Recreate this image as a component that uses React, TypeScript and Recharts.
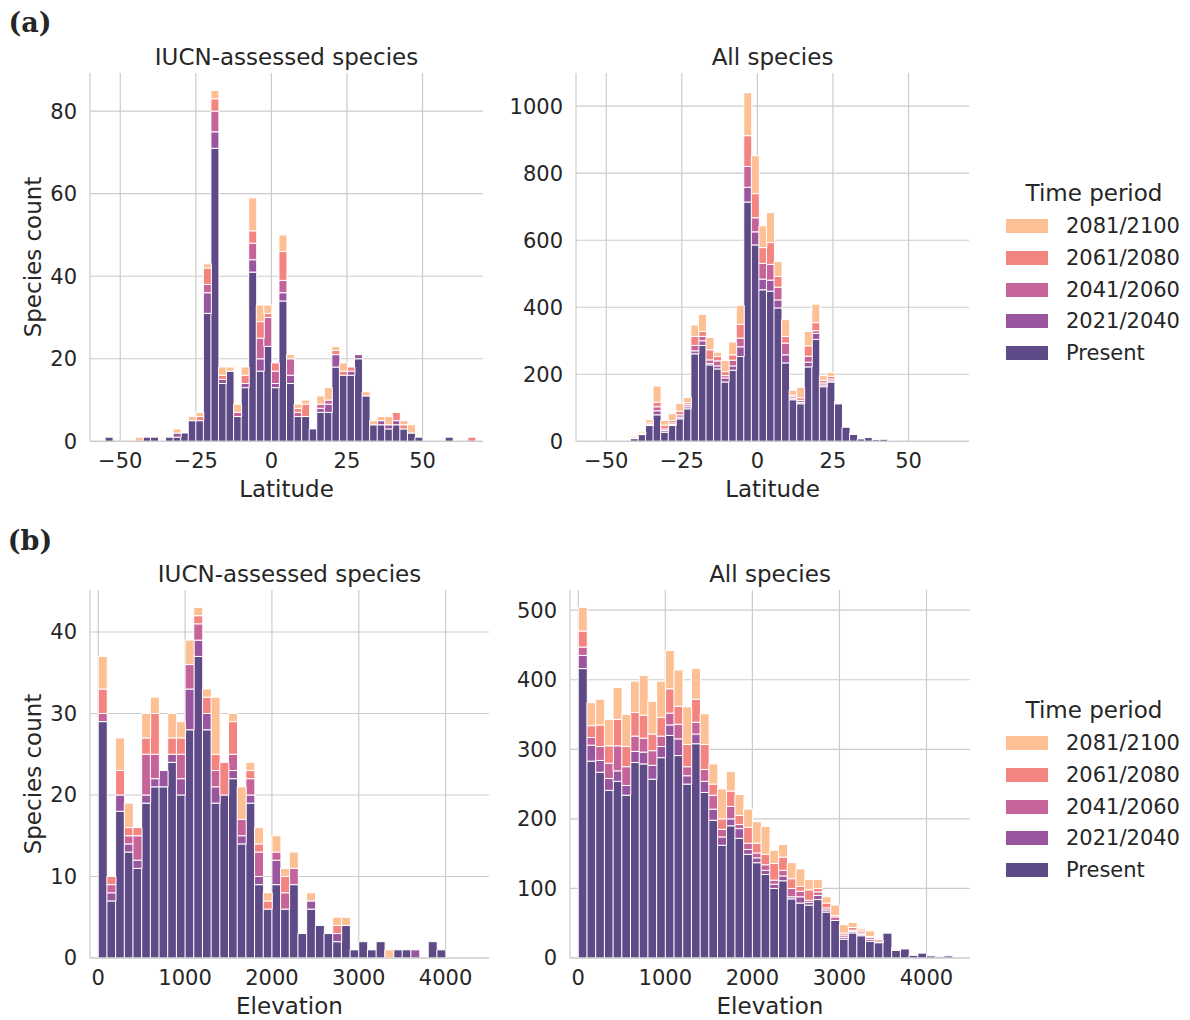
import React from 'react'
import { BarChart, Bar, XAxis, YAxis, CartesianGrid } from 'recharts'

const PERIODS = ['Present', '2021/2040', '2041/2060', '2061/2080', '2081/2100']
const PERIOD_COLORS = ['#5d4a86', '#9a559f', '#c6649a', '#f4847f', '#fdbf94']

// (a) latitude, IUCN-assessed species – 2.5 degree bins from -55
const latIucnStart = -55
const latIucnPresent = [1, 0, 0, 0, 0, 1, 1, 0, 1, 1, 2, 5, 5, 31, 71, 14, 17, 6, 13, 41, 17, 23, 13, 34, 14, 6, 6, 3, 7, 7, 18, 16, 16, 20, 11, 4, 4, 3, 4, 3, 2, 1, 0, 0, 0, 1, 0, 0, 0]
const latIucn2021 = [1, 0, 0, 0, 0, 1, 1, 0, 1, 2, 2, 5, 5, 36, 75, 15, 17, 6, 14, 44, 20, 23, 14, 36, 16, 6, 6, 3, 8, 9, 21, 16, 17, 21, 11, 4, 5, 4, 5, 3, 2, 1, 0, 0, 0, 1, 0, 0, 0]
const latIucn2041 = [1, 0, 0, 0, 0, 1, 1, 0, 1, 2, 2, 5, 5, 38, 80, 15, 17, 7, 14, 48, 25, 30, 17, 39, 20, 7, 6, 3, 9, 10, 21, 16, 17, 21, 11, 4, 5, 4, 5, 3, 2, 1, 0, 0, 0, 1, 0, 0, 0]
const latIucn2061 = [1, 0, 0, 0, 0, 1, 1, 0, 1, 2, 2, 5, 6, 42, 83, 16, 17, 7, 16, 51, 29, 31, 19, 46, 20, 8, 9, 3, 9, 10, 22, 17, 18, 21, 11, 4, 5, 4, 7, 4, 2, 1, 0, 0, 0, 1, 0, 0, 1]
const latIucn2081 = [1, 0, 0, 0, 1, 1, 1, 0, 1, 3, 2, 6, 7, 43, 85, 18, 18, 9, 18, 59, 33, 33, 19, 50, 21, 9, 10, 3, 11, 13, 23, 19, 18, 21, 12, 5, 6, 6, 7, 5, 4, 1, 0, 0, 0, 1, 0, 0, 1]

// (a) latitude, all species – 2.5 degree bins from -42
const latAllStart = -42
const latAllPresent = [8, 20, 47, 79, 27, 47, 67, 97, 261, 286, 228, 216, 177, 212, 253, 714, 586, 452, 448, 398, 234, 124, 112, 222, 304, 163, 177, 112, 42, 21, 7, 11, 5, 6, 2]
const latAll2021 = [8, 21, 49, 91, 32, 50, 72, 103, 270, 300, 232, 225, 189, 225, 282, 758, 625, 484, 481, 422, 258, 128, 116, 236, 322, 168, 180, 114, 42, 22, 7, 11, 6, 6, 2]
const latAll2041 = [9, 22, 51, 103, 37, 55, 79, 109, 286, 313, 243, 240, 196, 242, 308, 820, 667, 531, 528, 460, 293, 133, 122, 254, 330, 174, 186, 116, 42, 23, 7, 11, 7, 6, 2]
const latAll2061 = [10, 24, 55, 117, 48, 62, 90, 115, 313, 328, 273, 253, 208, 258, 349, 912, 739, 578, 593, 492, 313, 138, 130, 285, 354, 182, 194, 118, 42, 24, 7, 11, 8, 6, 2]
const latAll2081 = [15, 28, 64, 165, 62, 82, 113, 131, 347, 379, 310, 266, 241, 296, 406, 1040, 852, 643, 683, 536, 363, 152, 161, 328, 409, 196, 205, 119, 42, 24, 7, 11, 10, 6, 2]

// (b) elevation, IUCN-assessed species – 100 m bins from 0
const eleIucnPresent = [29, 7, 18, 13, 11, 19, 21, 21, 24, 20, 28, 37, 28, 19, 20, 22, 14, 19, 9, 6, 9, 6, 9, 3, 6, 4, 3, 2, 4, 1, 2, 1, 2, 0, 1, 1, 0, 0, 2, 1]
const eleIucn2021 = [29, 8, 20, 14, 12, 20, 22, 23, 25, 22, 33, 39, 30, 21, 20, 23, 15, 20, 10, 6, 12, 6, 9, 3, 7, 4, 3, 3, 4, 1, 2, 1, 2, 0, 1, 1, 1, 0, 2, 1]
const eleIucn2041 = [30, 9, 20, 15, 15, 25, 25, 23, 25, 25, 36, 41, 30, 23, 20, 25, 17, 22, 13, 6, 13, 8, 11, 3, 7, 4, 3, 3, 4, 1, 2, 1, 2, 0, 1, 1, 1, 0, 2, 1]
const eleIucn2061 = [33, 10, 23, 16, 16, 27, 30, 23, 27, 27, 36, 42, 32, 25, 24, 29, 17, 23, 14, 7, 13, 10, 11, 3, 7, 4, 3, 4, 4, 1, 2, 1, 2, 0, 1, 1, 1, 0, 2, 1]
const eleIucn2081 = [37, 10, 27, 19, 16, 30, 32, 23, 30, 29, 39, 43, 33, 32, 24, 30, 21, 24, 16, 8, 15, 11, 13, 3, 8, 4, 3, 5, 5, 1, 2, 1, 2, 1, 1, 1, 1, 0, 2, 1]

// (b) elevation, all species – 100 m bins from 0
const eleAllPresent = [416, 283, 267, 241, 254, 234, 281, 279, 257, 288, 320, 291, 250, 308, 238, 198, 162, 190, 172, 149, 137, 120, 100, 111, 85, 79, 76, 84, 66, 54, 27, 36, 32, 24, 22, 36, 11, 13, 4, 7, 3, 2, 3]
const eleAll2021 = [435, 306, 284, 258, 269, 248, 297, 296, 277, 304, 335, 315, 262, 322, 254, 214, 174, 200, 186, 156, 144, 126, 106, 118, 88, 88, 80, 90, 69, 54, 30, 38, 34, 27, 22, 36, 12, 13, 4, 7, 3, 2, 3]
const eleAll2041 = [447, 317, 304, 280, 305, 275, 319, 316, 298, 319, 352, 336, 275, 339, 271, 234, 185, 218, 192, 165, 151, 134, 112, 126, 100, 96, 83, 95, 72, 59, 33, 40, 36, 30, 23, 36, 13, 13, 5, 7, 3, 2, 3]
const eleAll2061 = [470, 334, 335, 305, 343, 304, 353, 349, 322, 346, 387, 362, 307, 372, 307, 250, 200, 240, 205, 188, 165, 149, 136, 145, 114, 103, 98, 100, 79, 61, 36, 44, 39, 31, 26, 37, 14, 13, 5, 7, 3, 2, 3]
const eleAll2081 = [504, 367, 372, 343, 389, 350, 398, 406, 369, 398, 442, 414, 361, 416, 351, 279, 243, 268, 235, 214, 196, 189, 155, 163, 137, 128, 113, 113, 88, 76, 48, 51, 42, 39, 26, 38, 15, 13, 5, 7, 3, 2, 3]

const latTicks = [-50, -25, 0, 25, 50]
const eleTicks = [0, 1000, 2000, 3000, 4000]

const FONT = "'DejaVu Sans', sans-serif"
const INK = '#262626'
const GRID = '#cccccc'

// layered histogram counts -> stacked increments
function buildRows(start: number, width: number, levels: number[][]) {
  return levels[0].map((_, i) => {
    const row: any = { x: start + width * (i + 0.5) }
    let prev = 0
    levels.forEach((arr, p) => {
      const v = Math.max(arr[i], prev)
      row['p' + p] = v - prev
      prev = v
    })
    return row
  })
}

const fmt = (v: number) => (v < 0 ? '\u2212' + Math.abs(v) : String(v))

interface PanelProps {
  rows: any[]
  left: number
  top: number
  width: number
  height: number
  xDomain: [number, number]
  xTicks: number[]
  yDomain: [number, number]
  yTicks: number[]
}

function Panel({ rows, left, top, width, height, xDomain, xTicks, yDomain, yTicks }: PanelProps) {
  const tick = { fill: INK, fontSize: 21, fontFamily: FONT }
  return (
    <div style={{ position: 'absolute', left: left - 80, top: top - 10 }}>
      <BarChart
        width={width + 90}
        height={height + 60}
        data={rows}
        margin={{ top: 10, right: 10, left: 0, bottom: 0 }}
        barCategoryGap={0}
        barGap={0}
      >
        <CartesianGrid stroke={GRID} strokeWidth={1.2} horizontalValues={yTicks} verticalValues={xTicks} />
        <XAxis
          type="number"
          dataKey="x"
          domain={xDomain}
          ticks={xTicks}
          allowDataOverflow
          interval={0}
          height={50}
          tickSize={0}
          tickMargin={12}
          tick={tick}
          tickFormatter={fmt}
          axisLine={{ stroke: GRID, strokeWidth: 1.2 }}
        />
        <YAxis
          type="number"
          domain={yDomain}
          ticks={yTicks}
          allowDataOverflow
          interval={0}
          width={80}
          tickSize={0}
          tickMargin={13}
          tick={tick}
          axisLine={{ stroke: GRID, strokeWidth: 1.2 }}
        />
        {PERIODS.map((p, i) => (
          <Bar
            key={p}
            dataKey={'p' + i}
            stackId="s"
            fill={PERIOD_COLORS[i]}
            stroke="#ffffff"
            strokeWidth={1}
            isAnimationActive={false}
          />
        ))}
      </BarChart>
    </div>
  )
}

function Text({ x, y, size, children, rotate, bold, serif }: any) {
  return (
    <div
      style={{
        position: 'absolute',
        left: x,
        top: y,
        transform: `translate(-50%, -50%)${rotate ? ' rotate(-90deg)' : ''}`,
        fontSize: size,
        fontFamily: serif ? "'DejaVu Serif', serif" : FONT,
        fontWeight: bold ? 'bold' : 'normal',
        color: INK,
        whiteSpace: 'nowrap',
        lineHeight: 1,
      }}
    >
      {children}
    </div>
  )
}

function PeriodLegend({ top }: { top: number }) {
  const order = [4, 3, 2, 1, 0]
  return (
    <>
      <Text x={1094} y={top} size={23}>Time period</Text>
      {order.map((p, k) => {
        const cy = top + 33 + 31.75 * k
        return (
          <React.Fragment key={p}>
            <div
              style={{
                position: 'absolute',
                left: 1006,
                top: cy - 7,
                width: 42,
                height: 14,
                background: PERIOD_COLORS[p],
              }}
            />
            <div
              style={{
                position: 'absolute',
                left: 1066,
                top: cy,
                transform: 'translateY(-50%)',
                fontSize: 21,
                fontFamily: FONT,
                color: INK,
                lineHeight: 1,
                whiteSpace: 'nowrap',
              }}
            >
              {PERIODS[p]}
            </div>
          </React.Fragment>
        )
      })}
    </>
  )
}

export default function App() {
  const latIucnRows = buildRows(latIucnStart, 2.5, [latIucnPresent, latIucn2021, latIucn2041, latIucn2061, latIucn2081])
  const latAllRows = buildRows(latAllStart, 2.5, [latAllPresent, latAll2021, latAll2041, latAll2061, latAll2081])
  const eleIucnRows = buildRows(0, 100, [eleIucnPresent, eleIucn2021, eleIucn2041, eleIucn2061, eleIucn2081])
  const eleAllRows = buildRows(0, 100, [eleAllPresent, eleAll2021, eleAll2041, eleAll2061, eleAll2081])

  return (
    <div style={{ position: 'absolute', left: 0, top: 0, width: 1190, height: 1020, background: '#ffffff', overflow: 'hidden' }}>
      <Text x={30} y={22} size={27} bold serif>(a)</Text>
      <Text x={30} y={540} size={27} bold serif>(b)</Text>

      <Text x={286.5} y={57} size={23}>IUCN-assessed species</Text>
      <Text x={772.5} y={57} size={23}>All species</Text>
      <Text x={289.5} y={574} size={23}>IUCN-assessed species</Text>
      <Text x={770} y={574} size={23}>All species</Text>

      <Panel rows={latIucnRows} left={90} top={72.7} width={393} height={368.3} xDomain={[-60, 70]} xTicks={latTicks} yDomain={[0, 89.25]} yTicks={[0, 20, 40, 60, 80]} />
      <Panel rows={latAllRows} left={576} top={72.7} width={393} height={368.3} xDomain={[-60, 70]} xTicks={latTicks} yDomain={[0, 1099]} yTicks={[0, 200, 400, 600, 800, 1000]} />
      <Panel rows={eleIucnRows} left={90} top={590} width={399} height={368} xDomain={[-95, 4500]} xTicks={eleTicks} yDomain={[0, 45.15]} yTicks={[0, 10, 20, 30, 40]} />
      <Panel rows={eleAllRows} left={570} top={590} width={400} height={368} xDomain={[-95, 4500]} xTicks={eleTicks} yDomain={[0, 529]} yTicks={[0, 100, 200, 300, 400, 500]} />

      <Text x={286.5} y={489} size={23}>Latitude</Text>
      <Text x={772.5} y={489} size={23}>Latitude</Text>
      <Text x={289.5} y={1006} size={23}>Elevation</Text>
      <Text x={770} y={1006} size={23}>Elevation</Text>

      <Text x={33} y={257} size={23} rotate>Species count</Text>
      <Text x={33} y={774} size={23} rotate>Species count</Text>

      <PeriodLegend top={193} />
      <PeriodLegend top={710} />
    </div>
  )
}
